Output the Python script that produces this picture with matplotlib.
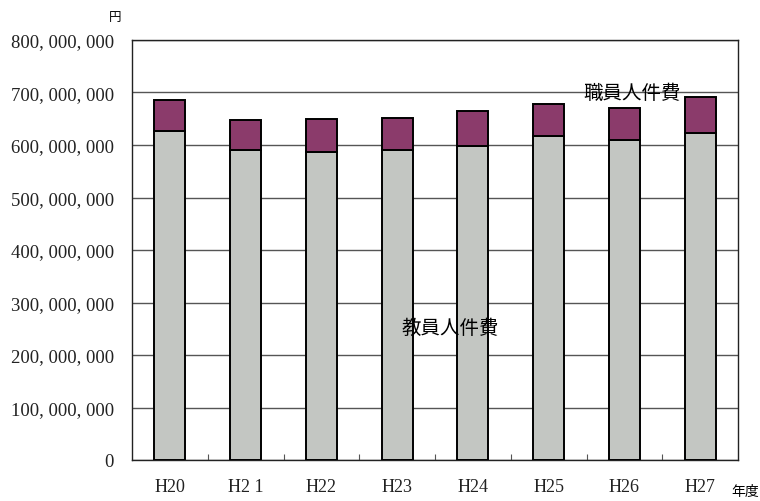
import matplotlib.pyplot as plt
from matplotlib.ticker import FuncFormatter, FixedLocator

# 年度別人件費（教員・職員）
nendo = ['H20', 'H2 1', 'H22', 'H23', 'H24', 'H25', 'H26', 'H27']
kyoin = [627000000, 590000000, 587000000, 590000000, 599000000, 618000000, 610000000, 623000000]
shokuin = [59000000, 58000000, 63000000, 61000000, 66000000, 61000000, 60000000, 68000000]

plt.rcParams['font.family'] = ['Liberation Serif', 'Noto Sans CJK JP', 'DejaVu Sans']

fig = plt.figure(figsize=(7.6, 5.02), dpi=100)
ax = fig.add_axes([132 / 760, 1 - 461 / 502, 606 / 760, 420 / 502])

x = range(len(nendo))
ax.bar(x, kyoin, width=0.41, color='#c3c6c2', edgecolor='black', linewidth=1.4, zorder=3)
ax.bar(x, shokuin, bottom=kyoin, width=0.41, color='#8b3b6b', edgecolor='black', linewidth=1.4, zorder=3)

ax.set_xlim(-0.5, len(nendo) - 0.5)
ax.set_ylim(0, 800000000)
ax.set_yticks(range(0, 800000001, 100000000))
ax.yaxis.set_major_formatter(FuncFormatter(lambda v, p: '{:,}'.format(int(v)).replace(',', ', ')))
ax.yaxis.grid(True, color='#555555', linewidth=1.0, zorder=1)
ax.tick_params(axis='y', length=0, pad=13, labelsize=13.5, colors='#222222')

ax.set_xticks(list(x))
ax.set_xticklabels(nendo)
ax.tick_params(axis='x', length=0, pad=13, labelsize=13, colors='#222222')
ax.xaxis.set_minor_locator(FixedLocator([i + 0.5 for i in range(len(nendo) - 1)]))
ax.tick_params(axis='x', which='minor', direction='in', length=4, width=0.8, color='#555555')

for s in ax.spines.values():
    s.set_color('#222222')
    s.set_linewidth(1.0)

ax.text(6.1, 700000000, '職員人件費', ha='center', va='center', fontsize=14,
        family=['Noto Sans CJK JP'], zorder=4)
ax.text(3.7, 253000000, '教員人件費', ha='center', va='center', fontsize=14,
        family=['Noto Sans CJK JP'], zorder=4)
fig.text(115 / 760, 1 - 18 / 502, '円', ha='center', va='center', fontsize=9,
         family=['Noto Sans CJK JP'])
fig.text(745 / 760, 1 - 492 / 502, '年度', ha='center', va='center', fontsize=10,
         family=['Noto Sans CJK JP'])

fig.savefig('out.png', dpi=100)
